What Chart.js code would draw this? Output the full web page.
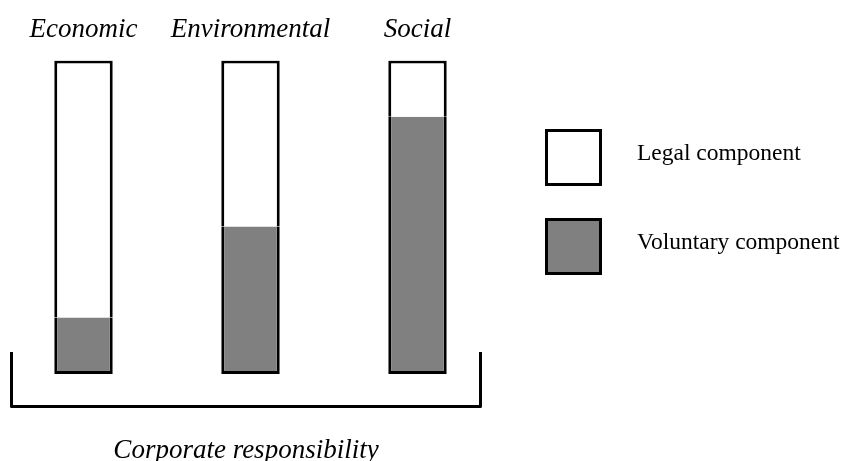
<!DOCTYPE html>
<html>
<head>
<meta charset="utf-8">
<script src="https://cdn.jsdelivr.net/npm/chart.js@4.4.1/dist/chart.umd.min.js"></script>
<style>
  html, body { margin: 0; padding: 0; background: #fff; }
  #wrap { width: 844px; height: 461px; }
</style>
</head>
<body>
<div id="wrap"><canvas id="crChart"></canvas></div>
<script>
"use strict";

// --- data (share of each pillar, %) ---
const dimensions = ['Economic', 'Environmental', 'Social'];
const voluntaryShare = [18, 47, 82];
const legalShare = [82, 53, 18];
const seriesNames = ['Voluntary component', 'Legal component'];
const caption = 'Corporate responsibility';

const INK = '#000000';
const GREY = '#808080';
const SERIF = '"Liberation Serif", "DejaVu Serif", serif';

// legend + bracket drawn by hand (Chart.js legend can't space the text this far)
const sidePanel = {
    id: 'sidePanel',
    afterDraw(chart) {
        const { ctx } = chart;
        const ds = chart.data.datasets.slice().reverse(); // legal on top
        ctx.save();

        // legend boxes
        const boxX = 545, boxSize = 57, firstY = 129, stepY = 89;
        ds.forEach((d, i) => {
            const y = firstY + i * stepY;
            ctx.fillStyle = d.backgroundColor;
            ctx.fillRect(boxX, y, boxSize, boxSize);
            ctx.lineWidth = 3;
            ctx.strokeStyle = INK;
            ctx.strokeRect(boxX + 1.5, y + 1.5, boxSize - 3, boxSize - 3);
            ctx.fillStyle = INK;
            ctx.font = `23.5px ${SERIF}`;
            ctx.textBaseline = 'alphabetic';
            ctx.textAlign = 'left';
            ctx.fillText(d.label, 637, y + boxSize / 2 + 2);
        });

        // bracket under the bars
        const x = chart.scales.x;
        const left = x.getPixelForValue(0) - 72;
        const right = x.getPixelForValue(dimensions.length - 1) + 63;
        const top = 352, bottom = 406.5;
        ctx.beginPath();
        ctx.lineWidth = 3;
        ctx.lineJoin = 'round';
        ctx.strokeStyle = INK;
        ctx.moveTo(left, top);
        ctx.lineTo(left, bottom);
        ctx.lineTo(right, bottom);
        ctx.lineTo(right, top);
        ctx.stroke();

        ctx.fillStyle = INK;
        ctx.font = `italic 27px ${SERIF}`;
        ctx.textAlign = 'center';
        ctx.fillText(caption, (left + right) / 2, 458);
        ctx.restore();
    }
};

new Chart(document.getElementById('crChart'), {
    type: 'bar',
    data: {
        labels: dimensions,
        datasets: [{
            label: seriesNames[0],
            data: voluntaryShare,
            backgroundColor: GREY,
            borderColor: INK,
            borderWidth: { left: 3, right: 3, bottom: 3, top: 0 },
            borderSkipped: false
        }, {
            label: seriesNames[1],
            data: legalShare,
            backgroundColor: '#ffffff',
            borderColor: INK,
            borderWidth: { left: 3, right: 3, bottom: 0, top: 3 },
            borderSkipped: false
        }]
    },
    options: {
        responsive: true, maintainAspectRatio: false, animation: false,
        layout: { padding: { left: 0, right: 343, top: 0, bottom: 87 } },
        datasets: { bar: { barPercentage: 0.35, categoryPercentage: 1 } },
        scales: {
            x: {
                stacked: true,
                position: 'top',
                grid: { display: false, drawTicks: false },
                border: { display: false },
                ticks: {
                    color: INK,
                    font: { family: SERIF, size: 27, style: 'italic', lineHeight: 0.8 },
                    padding: 19.4,
                    maxRotation: 0
                }
            },
            y: {
                stacked: true, display: false, min: 0, max: 100
            }
        },
        plugins: {
            legend: { display: false },
            tooltip: { enabled: false }
        }
    },
    plugins: [sidePanel]
});
</script>
</body>
</html>
